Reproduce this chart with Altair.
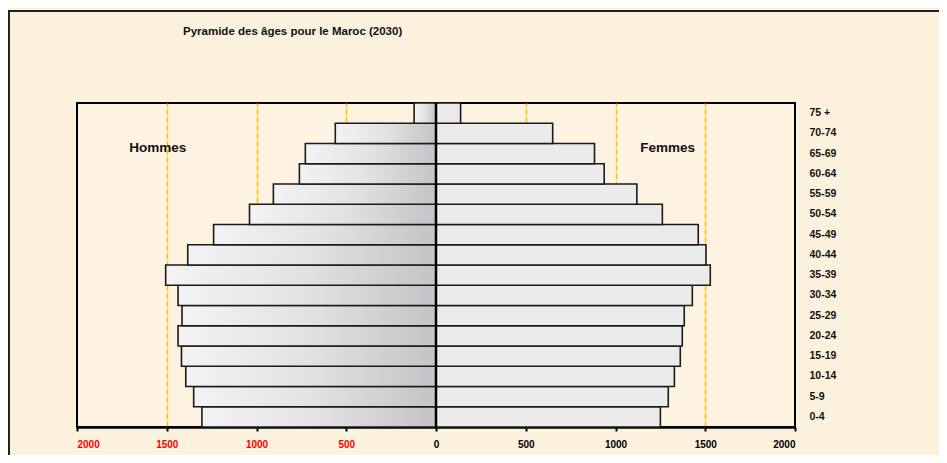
import altair as alt
import pandas as pd

ages = ["0-4", "5-9", "10-14", "15-19", "20-24", "25-29", "30-34", "35-39",
        "40-44", "45-49", "50-54", "55-59", "60-64", "65-69", "70-74", "75 +"]
hommes = [1304, 1350, 1394, 1418, 1437, 1415, 1437, 1506, 1383, 1239, 1039, 906, 761, 728, 561, 122]
femmes = [1250, 1294, 1328, 1361, 1372, 1383, 1428, 1528, 1504, 1461, 1261, 1119, 937, 883, 650, 137]
x_ticks = [-2000, -1500, -1000, -500, 0, 500, 1000, 1500, 2000]
title_text = "Pyramide des âges pour le Maroc (2030)"

df_h = pd.DataFrame({"age": ages, "val": [-v for v in hommes]})
df_f = pd.DataFrame({"age": ages, "val": femmes})
age_order = list(reversed(ages))

W, H = 718, 324
FONT = "Liberation Sans"

xscale = alt.Scale(domain=[-2000, 2000], nice=False, zero=False)
yscale = alt.Scale(domain=age_order, paddingInner=0, paddingOuter=0)

x_axis = alt.Axis(
    values=x_ticks, title=None,
    labelExpr="format(abs(datum.value), 'd')",
    labelColor={"condition": {"test": "datum.value < 0", "value": "#FF0000"}, "value": "#000000"},
    labelFont=FONT, labelFontSize=10, labelFontWeight="bold", labelPadding=8,
    domainColor="black", domainWidth=2.5,
    tickColor="black", tickWidth=2, tickSize=4,
    grid=True, gridColor="#FFC000", gridWidth=1.5, gridDash=[6, 2],
    gridOpacity={"condition": {"test": "abs(datum.value) == 2000 || datum.value == 0", "value": 0}, "value": 1},
)

y_axis_right = alt.Axis(
    orient="right", title=None, ticks=False, domain=False, grid=False,
    labelFont=FONT, labelFontSize=10.5, labelFontWeight="bold", labelColor="#111111",
    labelAlign="left", labelPadding=14,
)
y_axis_center = alt.Axis(
    orient="left", title=None, labels=False, domain=False, grid=False,
    ticks=True, tickSize=4, tickWidth=1.5, tickColor="black", offset=-359,
)

grad_h = alt.Gradient(
    gradient="linear",
    stops=[alt.GradientStop(color="#F3F3F5", offset=0),
           alt.GradientStop(color="#E2E2E5", offset=0.5),
           alt.GradientStop(color="#C4C4C8", offset=1)],
    x1=0, x2=1, y1=0, y2=0,
)

bars_h = alt.Chart(df_h).mark_bar(color=grad_h, stroke="#1a1a1a", strokeWidth=1.6).encode(
    x=alt.X("val:Q", scale=xscale, axis=x_axis),
    y=alt.Y("age:N", scale=yscale, sort=age_order, axis=y_axis_right),
)
bars_f = alt.Chart(df_f).mark_bar(color="#EBEBEC", stroke="#1a1a1a", strokeWidth=1.6).encode(
    x=alt.X("val:Q", scale=xscale),
    y=alt.Y("age:N", scale=yscale, sort=age_order, axis=y_axis_center),
)

center = alt.Chart(pd.DataFrame({"v": [0]})).mark_rule(color="black", strokeWidth=2.5).encode(
    x=alt.X("v:Q", scale=xscale)
)

lab_df = pd.DataFrame({"x": [-1550, 1290], "t": ["Hommes", "Femmes"]})
labels = alt.Chart(lab_df).mark_text(
    font=FONT, fontSize=13.5, fontWeight="bold", color="#111111", baseline="middle", align="center"
).encode(x=alt.X("x:Q", scale=xscale), y=alt.value(45), text="t:N")

frame = alt.Chart(pd.DataFrame({"v": [0]})).mark_rect(
    fill=None, stroke="#222222", strokeWidth=2
).encode(x=alt.value(-68), x2=alt.value(864), y=alt.value(-92), y2=alt.value(H + 80))

chart = alt.layer(bars_h, bars_f, center, labels, frame).resolve_axis(y="independent").properties(
    width=W, height=H,
    title=alt.TitleParams(title_text, anchor="start", dx=175, offset=-27, font=FONT,
                          fontSize=11.5, fontWeight="bold", color="#111111"),
    autosize=alt.AutoSizeParams(type="none"),
    padding={"left": 69, "top": 95, "right": 144, "bottom": 28},
    background="#FCF1DC",
).configure_view(stroke="black", strokeWidth=2, fill="#FDF3E0")

chart.save("out.html", embed_options={"renderer": "svg", "actions": False})
